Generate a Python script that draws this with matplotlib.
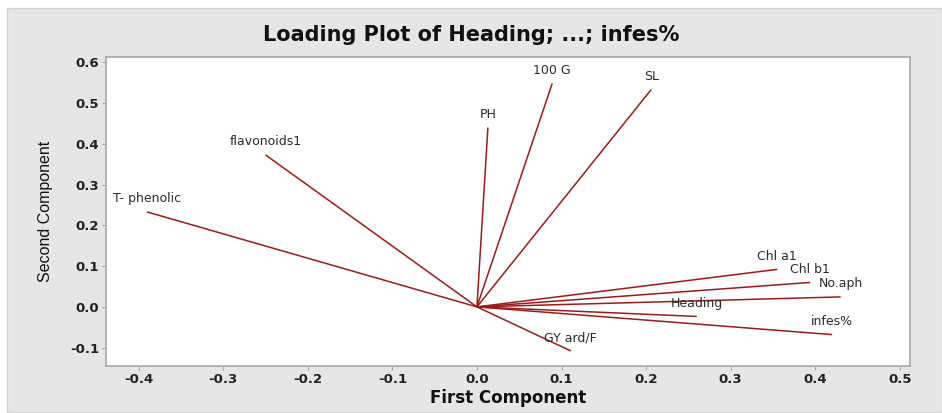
"""Loading plot (PC1 vs PC2) recreated in a Minitab-like style."""

import matplotlib

matplotlib.use("Agg")
import matplotlib.patches as patches
import matplotlib.pyplot as plt

# loadings
variables = ["T- phenolic", "flavonoids1", "PH", "100 G", "SL", "Chl a1",
             "Chl b1", "No.aph", "Heading", "infes%", "GY ard/F"]
pc1 = [-0.390, -0.250, 0.013, 0.089, 0.206, 0.355, 0.394, 0.430, 0.260, 0.420, 0.111]
pc2 = [0.233, 0.373, 0.440, 0.548, 0.533, 0.092, 0.060, 0.0245, -0.0235, -0.068, -0.108]

xticks = [-0.4, -0.3, -0.2, -0.1, 0.0, 0.1, 0.2, 0.3, 0.4, 0.5]
yticks = [-0.1, 0.0, 0.1, 0.2, 0.3, 0.4, 0.5, 0.6]

LINE = "#9a1b1b"
PANEL = "#e6e6e6"
SPINE = "#a8a8a8"

fig = plt.figure(figsize=(9.42, 4.13), dpi=100)
fig.patch.set_facecolor("white")

# grey Minitab panel behind everything
fig.add_artist(patches.Rectangle((7 / 942, 1 / 413), 1 - 7 / 942, 1 - 9 / 413,
                                 transform=fig.transFigure, facecolor=PANEL,
                                 edgecolor="#d2d2d2", linewidth=1.0, zorder=0))

ax = fig.add_axes([106 / 942, 47 / 413, 804 / 942, 309 / 413])
ax.set_facecolor("white")
ax.set_xlim(-0.4385, 0.512)
ax.set_ylim(-0.145, 0.613)

for x, y, name in zip(pc1, pc2, variables):
    ax.plot([0, x], [0, y], color=LINE, linewidth=1.1, solid_capstyle="butt")
    ax.annotate(name, (x, y), xytext=(0, 13), textcoords="offset pixels",
                ha="center", va="center", fontsize=9, color="#2a2a2a")

ax.set_xticks(xticks)
ax.set_yticks(yticks)
ax.set_xticklabels([f"{t:.1f}" for t in xticks], fontsize=9.5, fontweight="bold", color="#222")
ax.set_yticklabels([f"{t:.1f}" for t in yticks], fontsize=9.5, fontweight="bold", color="#222")
ax.tick_params(direction="out", length=3, width=0.8, color=SPINE, pad=2)
for s in ax.spines.values():
    s.set_color(SPINE)
    s.set_linewidth(1.2)

ax.set_xlabel("First Component", fontsize=12, fontweight="bold", color="#111", labelpad=2)
ax.set_ylabel("Second Component", fontsize=11.5, color="#111", labelpad=12,
              family=["Liberation Sans", "DejaVu Sans"])

fig.text(0.5, 1 - 35 / 413, "Loading Plot of Heading; ...; infes%", ha="center",
         va="center", fontsize=15, fontweight="bold", color="#111")

fig.savefig("out.png", dpi=100, facecolor="white")
